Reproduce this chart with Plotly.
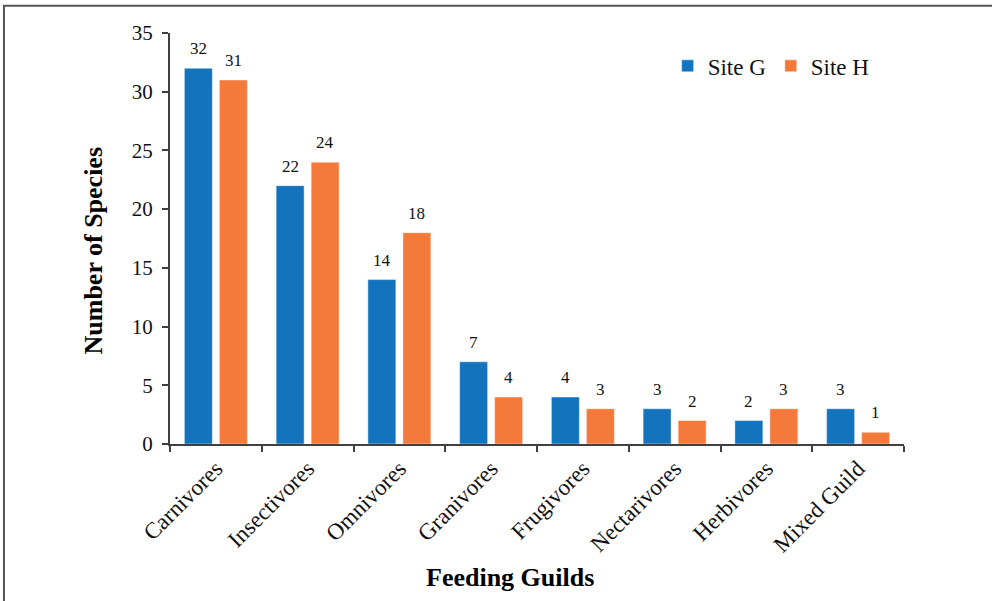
import plotly.graph_objects as go

# Feeding guild counts per site
guilds = ["Carnivores", "Insectivores", "Omnivores", "Granivores",
          "Frugivores", "Nectarivores", "Herbivores", "Mixed Guild"]
site_g = [32, 22, 14, 7, 4, 3, 2, 3]
site_h = [31, 24, 18, 4, 3, 2, 3, 1]

BLUE = "#1373BD"
ORANGE = "#F47A3C"
FONT = "Liberation Serif, Times New Roman, serif"
AXIS = "#404040"

fig = go.Figure()
fig.add_trace(go.Bar(name="Site G", x=guilds, y=site_g,
                     marker=dict(color=BLUE, line=dict(color="rgba(255,255,255,0.45)", width=1))))
fig.add_trace(go.Bar(name="Site H", x=guilds, y=site_h,
                     marker=dict(color=ORANGE, line=dict(color="rgba(255,255,255,0.45)", width=1))))

# value labels above each bar
annotations = []
for vals, shift in ((site_g, -17.5), (site_h, 17.5)):
    for g, v in zip(guilds, vals):
        annotations.append(dict(x=g, y=v, xref="x", yref="y", text=str(v),
                                showarrow=False, xshift=shift, yshift=8,
                                yanchor="bottom", font=dict(size=17, color="#111")))

# axis titles
annotations.append(dict(x=-0.104, y=0.47, xref="paper", yref="paper",
                        xanchor="center", yanchor="middle",
                        text="<b>Number of Species</b>", textangle=-90, showarrow=False,
                        font=dict(size=26, color="#000")))
annotations.append(dict(x=0.463, y=-0.326, xref="paper", yref="paper",
                        xanchor="center", yanchor="middle",
                        text="<b>Feeding Guilds</b>", showarrow=False,
                        font=dict(size=26, color="#000")))

fig.update_layout(
    width=992, height=601,
    margin=dict(l=170, r=88, t=33, b=157),
    paper_bgcolor="white", plot_bgcolor="white",
    font=dict(family=FONT, color="#111"),
    barmode="group", bargap=0.237, bargroupgap=0.2,
    showlegend=True,
    legend=dict(orientation="h", x=0.678, y=0.92, xanchor="left", yanchor="middle",
                font=dict(size=23, color="#111"), bgcolor="rgba(0,0,0,0)",
                itemwidth=30, traceorder="normal"),
    annotations=annotations,
    shapes=[dict(type="rect", xref="paper", yref="paper",
                 x0=-0.2262, y0=-0.42, x1=1.14, y1=1.0665,
                 line=dict(color="#555", width=2), layer="below")],
)

fig.update_yaxes(range=[0, 35], dtick=5, showgrid=False, zeroline=False,
                 showline=True, linecolor=AXIS, linewidth=2,
                 ticks="outside", ticklen=6, tickwidth=2, tickcolor=AXIS,
                 ticklabelstandoff=5,
                 tickfont=dict(size=21, color="#111"))
fig.update_xaxes(showgrid=False, showline=True, linecolor=AXIS, linewidth=2,
                 ticks="outside", ticklen=6, tickwidth=2, tickcolor=AXIS,
                 tickson="boundaries", tickangle=-45,
                 tickfont=dict(size=23, color="#111"))

fig.write_html("out.html")
